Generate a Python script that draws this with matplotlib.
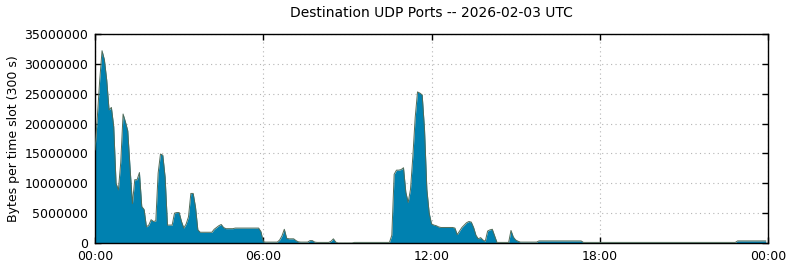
import matplotlib
matplotlib.use('Agg')
import matplotlib.pyplot as plt
import numpy as np

TITLE = 'Destination UDP Ports -- 2026-02-03 UTC'
YLABEL = 'Bytes per time slot (300 s)'

# bytes per 5 minute slot, in millions, one row per hour
MBYTES = [
    15.6, 21.2, 27.3, 32.2, 30.7, 27.3, 22.3, 22.7, 19.5, 10.0, 8.9, 13.5,
    21.6, 20.3, 18.8, 12.5, 6.6, 10.6, 10.6, 11.8, 6.1, 5.6, 2.7, 3.0,
    3.9, 3.6, 3.7, 11.7, 14.9, 14.7, 11.0, 3.0, 3.0, 3.0, 5.0, 5.1,
    5.1, 3.6, 2.5, 3.2, 4.4, 8.3, 8.3, 6.0, 2.2, 1.8, 1.8, 1.8,
    1.8, 1.8, 1.8, 2.3, 2.6, 2.9, 3.1, 2.6, 2.4, 2.4, 2.4, 2.4,
    2.5, 2.5, 2.5, 2.5, 2.5, 2.5, 2.5, 2.5, 2.5, 2.5, 2.5, 1.9,
    0.2, 0.15, 0.15, 0.15, 0.15, 0.15, 0.15, 0.5, 1.2, 2.3, 0.8, 0.7,
    0.7, 0.7, 0.4, 0.2, 0.15, 0.15, 0.15, 0.15, 0.4, 0.4, 0.15, 0.1,
    0.1, 0.1, 0.1, 0.1, 0.1, 0.3, 0.7, 0.15, 0.0, 0.0, 0.0, 0.0,
    0.0, 0.0, 0.0, 0.1, 0.1, 0.1, 0.1, 0.1, 0.1, 0.1, 0.1, 0.1,
    0.1, 0.1, 0.1, 0.1, 0.1, 0.1, 0.1, 1.3, 11.5, 12.2, 12.2, 12.3,
    12.6, 8.5, 6.8, 9.0, 14.5, 21.0, 25.3, 25.1, 24.8, 19.0, 9.0, 5.0,
    3.2, 3.0, 2.9, 2.7, 2.6, 2.6, 2.6, 2.6, 2.6, 2.6, 2.5, 1.4,
    2.0, 2.6, 3.0, 3.4, 3.6, 3.5, 2.6, 1.3, 0.7, 0.9, 0.5, 0.3,
    2.0, 2.2, 2.3, 1.2, 0.1, 0.1, 0.1, 0.1, 0.1, 0.1, 2.1, 1.0,
    0.5, 0.3, 0.15, 0.15, 0.15, 0.15, 0.15, 0.15, 0.15, 0.15, 0.35, 0.35,
    0.35, 0.35, 0.35, 0.35, 0.35, 0.35, 0.35, 0.35, 0.35, 0.35, 0.35, 0.35,
    0.35, 0.35, 0.35, 0.35, 0.35, 0.1, 0.1, 0.1, 0.1, 0.1, 0.1, 0.1,
    0.1, 0.1, 0.1, 0.1, 0.1, 0.1, 0.1, 0.1, 0.1, 0.1, 0.1, 0.1,
    0.1, 0.1, 0.1, 0.1, 0.1, 0.1, 0.1, 0.1, 0.1, 0.1, 0.1, 0.1,
    0.1, 0.1, 0.1, 0.1, 0.1, 0.1, 0.1, 0.1, 0.1, 0.1, 0.1, 0.1,
    0.1, 0.1, 0.1, 0.1, 0.1, 0.1, 0.1, 0.1, 0.1, 0.1, 0.1, 0.1,
    0.1, 0.1, 0.1, 0.1, 0.1, 0.1, 0.1, 0.1, 0.1, 0.1, 0.1, 0.35,
    0.35, 0.35, 0.35, 0.35, 0.35, 0.35, 0.35, 0.35, 0.35, 0.35, 0.35, 0.35,
]

XTICKS = [0, 6, 12, 18, 24]
XTICKLABELS = ['00:00', '06:00', '12:00', '18:00', '00:00']
YTICKS = [0, 5000000, 10000000, 15000000, 20000000, 25000000, 30000000, 35000000]

FILL = '#0081b0'
EDGE = '#4f6b58'


def main():
    hours = np.arange(len(MBYTES)) / 12.0
    values = np.array(MBYTES) * 1e6

    fig = plt.figure(figsize=(7.9, 2.67), dpi=100)
    ax = fig.add_axes([0.1203, 0.0899, 0.8519, 0.7828])

    ax.fill_between(hours, 0, values, color=FILL, linewidth=0, zorder=2)
    ax.plot(hours, values, color=EDGE, linewidth=0.7, zorder=3)

    ax.set_xlim(0, 24)
    ax.set_ylim(0, 35000000)
    ax.set_xticks(XTICKS)
    ax.set_xticklabels(XTICKLABELS)
    ax.set_yticks(YTICKS)
    ax.set_yticklabels([str(v) for v in YTICKS])

    ax.tick_params(direction='in', top=True, right=True, length=4,
                   width=1, labelsize=9, pad=5)
    ax.grid(True, color='#b5b5b5', linestyle=(0, (1, 3)), linewidth=0.8)
    ax.set_axisbelow(True)
    for s in ax.spines.values():
        s.set_linewidth(1.0)

    ax.set_title(TITLE, fontsize=10, pad=12)
    ax.set_ylabel(YLABEL, fontsize=9, labelpad=3)

    fig.savefig('out.png', dpi=100)


if __name__ == '__main__':
    main()
